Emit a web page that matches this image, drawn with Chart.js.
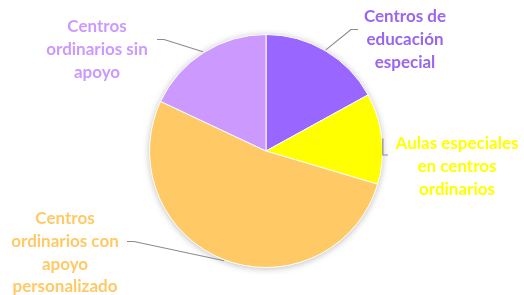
<!DOCTYPE html>
<html>
<head>
<meta charset="utf-8">
<script src="https://cdn.jsdelivr.net/npm/chart.js@4.4.0/dist/chart.umd.min.js"></script>
<style>
    html, body { margin: 0; padding: 0; background: #fff; }
    #wrap { position: relative; width: 524px; height: 295px; }
</style>
</head>
<body>
<div id="wrap"><canvas id="pieChart" width="524" height="295"></canvas></div>
<script>
// Pie: distribution by school type

const categories = [
    'Centros de educación especial',
    'Aulas especiales en centros ordinarios',
    'Centros ordinarios con apoyo personalizado',
    'Centros ordinarios sin apoyo'
];
const values = [17, 12.6, 52.4, 18];

// how each label is broken into lines, as in the picture
const labelLines = [
    ['Centros de', 'educación', 'especial'],
    ['Aulas especiales', 'en centros', 'ordinarios'],
    ['Centros', 'ordinarios con', 'apoyo', 'personalizado'],
    ['Centros', 'ordinarios sin', 'apoyo']
];

const sliceColors = ['#9966FF', '#FFFF00', '#FFC966', '#CC99FF'];
const textColors = ['#9966EE', '#FFFF00', '#FFC966', '#CC99FF'];

// label placement: centre x, first line y, end of leader line
const labelLayout = [
    { x: 405, y: 17, endX: 358, endY: 29.5 },
    { x: 457, y: 143.5, endX: 388, endY: 155 },
    { x: 65, y: 218.5, endX: 127, endY: 241.5 },
    { x: 97, y: 26.5, endX: 157, endY: 39.5 }
];
const lineHeight = 22.8;

// soft shadow under the whole pie
const pieShadow = {
    id: 'pieShadow',
    beforeDatasetsDraw(chart) {
        const arc = chart.getDatasetMeta(0).data[0];
        if (!arc) return;
        const ctx = chart.ctx;
        ctx.save();
        ctx.shadowColor = 'rgba(0,0,0,0.28)';
        ctx.shadowBlur = 7;
        ctx.shadowOffsetX = 0;
        ctx.shadowOffsetY = 1;
        ctx.fillStyle = '#fff';
        ctx.beginPath();
        ctx.arc(arc.x, arc.y, arc.outerRadius, 0, Math.PI * 2);
        ctx.fill();
        ctx.restore();
    }
};

// labels with leader lines from the slice mid angle
const sliceLabels = {
    id: 'sliceLabels',
    afterDatasetsDraw(chart) {
        const ctx = chart.ctx;
        const meta = chart.getDatasetMeta(0);
        meta.data.forEach((arc, i) => {
            const lay = labelLayout[i];
            const mid = (arc.startAngle + arc.endAngle) / 2;
            const ax = arc.x + Math.cos(mid) * (arc.outerRadius + 1);
            const ay = arc.y + Math.sin(mid) * (arc.outerRadius + 1);
            const dir = lay.endX > ax ? -1 : 1;
            let ex = lay.endX + dir * 7;
            if (Math.abs(ex - ax) < 8) ex = ax;

            ctx.save();
            ctx.strokeStyle = '#8c8c8c';
            ctx.lineWidth = 1.2;
            ctx.beginPath();
            ctx.moveTo(ax, ay);
            ctx.lineTo(ex, lay.endY);
            ctx.lineTo(lay.endX, lay.endY);
            ctx.stroke();

            ctx.fillStyle = textColors[i];
            ctx.font = 'bold 17px Lato, "Open Sans", sans-serif';
            ctx.textAlign = 'center';
            ctx.textBaseline = 'middle';
            labelLines[i].forEach((line, k) => {
                ctx.fillText(line, lay.x, lay.y + k * lineHeight);
            });
            ctx.restore();
        });
    }
};

function renderChart() {
    const ctx = document.getElementById('pieChart').getContext('2d');
    new Chart(ctx, {
        type: 'pie',
        data: {
            labels: categories,
            datasets: [{
                data: values,
                backgroundColor: sliceColors,
                borderColor: '#ffffff',
                borderWidth: 1
            }]
        },
        options: {
            responsive: false,
            animation: false,
            layout: {
                padding: { top: 34, bottom: 27, left: 100, right: 92 }
            },
            plugins: {
                legend: { display: false },
                tooltip: { enabled: false }
            }
        },
        plugins: [pieShadow, sliceLabels]
    });
}

document.addEventListener('DOMContentLoaded', renderChart);
</script>
</body>
</html>
